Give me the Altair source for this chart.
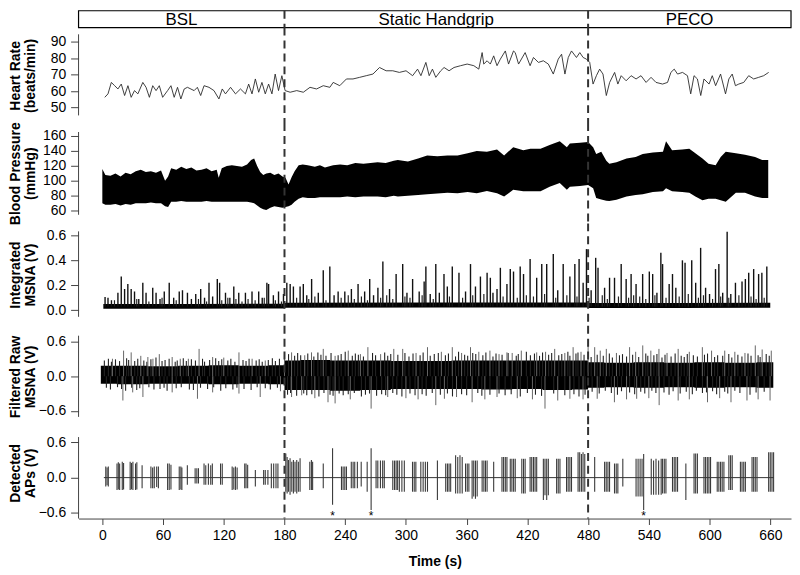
import altair as alt
import pandas as pd

FONT = "Liberation Sans"
X_MIN, X_MAX = -23.5, 680.5
W = 717

phase_names = ["BSL", "Static Handgrip", "PECO"]
phase_bounds = [180, 480]

# ---------------- Heart rate (beats/min) ----------------
hr_t = [2.4, 5.6, 8.9, 12.2, 15.4, 18.7, 22.0, 25.3, 28.5, 31.8, 35.1, 40.0, 43.2, 46.5, 49.8,
        53.1, 56.3, 59.6, 64.5, 67.8, 71.0, 74.3, 77.6, 80.9, 84.1, 90.7, 93.9, 97.2, 100.5,
        105.4, 110.3, 115.2, 118.5, 121.7, 126.7, 131.6, 136.5, 141.4, 144.6, 147.9, 151.2,
        154.5, 157.7, 161.0, 164.3, 167.6, 170.8, 174.1, 177.4, 180.6, 185.6, 192.1, 198.6,
        205.2, 211.7, 218.3, 224.8, 228.1, 234.6, 241.2, 247.7, 254.3, 260.8, 267.4, 273.9,
        280.4, 287.0, 293.5, 300.1, 306.6, 311.5, 314.8, 319.7, 323.0, 326.2, 329.5, 334.4,
        337.7, 342.6, 347.5, 354.0, 360.5, 367.1, 372.0, 375.3, 376.9, 380.2, 383.4, 386.7,
        390.0, 393.3, 398.2, 401.4, 406.3, 408.0, 411.3, 417.8, 422.7, 426.0, 430.9, 435.8,
        440.7, 445.6, 450.5, 453.8, 457.1, 460.4, 463.6, 468.5, 471.8, 475.1, 478.4, 481.6,
        484.9, 488.2, 491.4, 494.7, 498.0, 501.3, 506.2, 509.4, 512.7, 517.6, 522.5, 527.4,
        532.3, 537.3, 542.2, 547.1, 553.6, 558.5, 561.8, 565.1, 568.4, 573.3, 578.2, 581.4,
        584.7, 588.0, 591.3, 594.5, 599.5, 602.7, 606.0, 610.9, 615.8, 619.1, 622.4, 625.6,
        628.9, 633.8, 638.7, 643.6, 648.6, 653.5, 658.4]
hr_v = [56.2, 58.3, 65.3, 63.3, 61.3, 64.3, 57.3, 63.3, 56.2, 60.3, 58.3, 65.3, 62.3, 56.2, 63.3,
        60.3, 63.3, 56.2, 60.3, 63.3, 56.2, 62.3, 55.2, 61.3, 62.3, 60.3, 62.3, 57.3, 63.3,
        62.3, 60.3, 55.2, 61.3, 58.3, 62.3, 58.3, 61.3, 58.3, 64.3, 58.3, 67.4, 59.3, 65.3,
        58.3, 64.3, 58.3, 70.4, 60.3, 69.4, 60.3, 59.3, 60.3, 59.3, 62.3, 61.3, 63.3, 62.3,
        65.3, 63.3, 67.4, 67.4, 68.4, 69.4, 70.4, 74.4, 72.4, 72.4, 71.4, 72.4, 69.4, 73.4,
        69.4, 77.5, 69.4, 73.4, 68.4, 72.4, 74.4, 72.4, 74.4, 75.5, 76.5, 75.5, 73.4, 83.5,
        76.5, 78.5, 76.5, 81.5, 75.5, 79.5, 84.5, 76.5, 84.5, 83.5, 76.5, 83.5, 75.5, 80.5,
        77.5, 78.5, 76.5, 70.4, 79.5, 82.5, 70.4, 80.5, 84.5, 80.5, 83.5, 80.5, 79.5, 77.5,
        64.3, 69.4, 73.4, 70.4, 57.3, 65.3, 71.4, 64.3, 69.4, 66.3, 69.4, 67.4, 69.4, 65.3,
        68.4, 65.3, 64.3, 65.3, 71.4, 73.4, 70.4, 71.4, 69.4, 58.3, 69.4, 67.4, 57.3, 67.4,
        64.3, 69.4, 63.3, 70.4, 58.3, 67.4, 70.4, 63.3, 64.3, 65.3, 69.4, 67.4, 68.4, 69.4,
        71.4]

# ---------------- Blood pressure envelope (mmHg) ----------------
bp_t = [0, 3, 8, 13, 18, 23, 28, 33, 38, 43, 48, 53, 58, 62, 65, 68, 73, 78, 83, 88, 93, 98,
        103, 108, 113, 115, 118, 123, 128, 133, 138, 143, 147, 150, 153, 156, 159, 162, 166,
        170, 174, 178, 181, 184, 187, 190, 194, 198, 203, 210, 215, 220, 228, 235, 242, 250,
        258, 265, 272, 280, 288, 292, 302, 312, 321, 331, 341, 351, 361, 370, 380, 390, 397,
        406, 416, 423, 433, 442, 452, 459, 462, 472, 480, 485, 488, 493, 498, 501, 508, 518,
        527, 534, 544, 554, 557, 563, 573, 580, 586, 593, 599, 606, 611, 616, 626, 635, 645,
        652, 658]
bp_sys = [116, 108, 107, 110, 106, 111, 109, 113, 115, 112, 113, 111, 114, 100, 106, 117, 115,
          119, 116, 118, 114, 115, 117, 113, 115, 104, 117, 120, 121, 120, 119, 122, 128, 130,
          120, 112, 108, 110, 111, 108, 110, 106, 104, 95, 105, 113, 121, 122, 121, 119, 121,
          118, 121, 122, 121, 124, 123, 124, 125, 124, 127, 128, 126, 130, 134, 133, 134, 134,
          137, 140, 139, 142, 134, 145, 141, 143, 143, 148, 153, 145, 150, 151, 152, 145, 136,
          139, 127, 123, 125, 130, 132, 136, 138, 139, 153, 141, 142, 143, 137, 130, 123, 121,
          132, 139, 137, 135, 132, 128, 128]
bp_dia = [70, 68, 68, 69, 67, 69, 68, 70, 70, 70, 71, 70, 70, 66, 65, 72, 72, 73, 72, 72, 72, 72,
          73, 72, 72, 72, 72, 72, 72, 72, 72, 72, 71, 70, 67, 64, 62, 61, 64,
          66, 65, 64, 65, 66, 68, 72, 76, 78, 77, 77, 78, 78, 78, 78, 79, 78,
          79, 79, 79, 78, 80, 79, 80, 81, 82, 83, 84, 83.5, 85, 83.5, 86.5, 83.5, 79,
          88, 86, 86, 86, 92, 97, 88, 92, 93, 94.5, 90, 77, 75, 73.3, 73, 74.6, 79,
          81, 82, 85, 86, 90, 86, 85, 84, 79, 74, 76, 76, 74, 72, 84, 84, 79,
          77, 77]

# ---------------- Integrated MSNA (V) ----------------
msna_base_t = [1, 90, 180, 181, 330, 480, 481, 570, 660]
msna_base_lo = [0.012, 0.012, 0.014, 0.02, 0.022, 0.022, 0.018, 0.018, 0.02]
msna_base_hi = [0.05, 0.05, 0.052, 0.06, 0.062, 0.062, 0.058, 0.058, 0.06]
burst_t = [2.7, 5.6, 9.0, 15.4, 18.7, 22.0, 25.2, 28.5, 31.8, 36.0, 40.0, 43.2, 49.8, 53.1, 57.0,
           61.2, 66.1, 70.5, 76.0, 79.2, 84.1, 88.0, 92.3, 97.2, 101.0, 105.4, 109.0, 113.6, 115.9,
           121.7, 126.0, 129.9, 134.8, 141.4, 147.9, 154.5, 158.0, 162.6, 164.3, 169.0, 174.1,
           179.0, 182.3, 185.6, 188.8, 195.4, 198.6, 202.0, 206.8, 213.4, 218.3, 224.8, 229.0,
           233.0, 239.6, 246.1, 252.7, 259.2, 264.2, 268.0, 272.3, 277.2, 283.8, 290.3, 296.8,
           301.0, 306.6, 313.1, 318.0, 319.7, 324.0, 329.5, 333.0, 337.6, 340.9, 345.8, 352.4,
           358.9, 363.8, 368.7, 373.6, 380.2, 383.4, 386.0, 390.0, 393.3, 399.8, 403.1, 406.3,
           412.9, 416.2, 422.7, 429.2, 434.2, 439.1, 445.6, 450.0, 455.4, 462.0, 466.9, 471.1,
           475.1, 478.4, 483.0, 487.5, 489.8, 496.3, 501.2, 506.1, 512.7, 517.6, 522.5, 527.4,
           533.9, 540.5, 543.8, 548.0, 551.9, 553.6, 560.1, 563.4, 566.7, 573.2, 575.8, 582.4,
           586.3, 591.2, 596.1, 600.0, 605.9, 609.2, 613.0, 617.4, 621.0, 625.6, 632.1, 635.4,
           638.7, 643.6, 648.5, 651.7, 656.6]
burst_v = [0.106, 0.10, 0.08, 0.14, 0.27, 0.17, 0.21, 0.17, 0.15, 0.09, 0.22, 0.14, 0.18, 0.14,
           0.09, 0.15, 0.22, 0.10, 0.15, 0.16, 0.14, 0.09, 0.13, 0.17, 0.10, 0.22, 0.11, 0.25,
           0.22, 0.14, 0.10, 0.19, 0.14, 0.14, 0.15, 0.15, 0.10, 0.22, 0.21, 0.12, 0.15, 0.13,
           0.22, 0.21, 0.19, 0.19, 0.21, 0.12, 0.25, 0.14, 0.32, 0.35, 0.12, 0.15, 0.15, 0.17,
           0.21, 0.15, 0.25, 0.12, 0.18, 0.39, 0.17, 0.29, 0.37, 0.14, 0.25, 0.15, 0.23, 0.35,
           0.13, 0.37, 0.14, 0.29, 0.19, 0.35, 0.30, 0.15, 0.37, 0.19, 0.27, 0.30, 0.26, 0.14,
           0.17, 0.34, 0.21, 0.33, 0.31, 0.35, 0.29, 0.41, 0.26, 0.37, 0.37, 0.45, 0.16, 0.37,
           0.27, 0.37, 0.41, 0.22, 0.49, 0.16, 0.42, 0.34, 0.18, 0.26, 0.26, 0.37, 0.25, 0.29,
           0.21, 0.29, 0.31, 0.29, 0.14, 0.46, 0.37, 0.21, 0.29, 0.18, 0.40, 0.38, 0.40, 0.22,
           0.50, 0.18, 0.13, 0.33, 0.37, 0.14, 0.63, 0.13, 0.22, 0.23, 0.25, 0.30, 0.33, 0.29,
           0.30, 0.35]
small_burst_t = [12, 34, 46, 59, 73, 95, 103, 118, 124, 132, 138, 144, 151, 160, 171, 177, 192,
                 204, 210, 221, 236, 243, 249, 256, 262, 275, 281, 287, 299, 304, 316, 327, 343,
                 356, 366, 377, 396, 410, 419, 426, 437, 448, 459, 469, 481, 494, 499, 510, 520,
                 525, 531, 537, 546, 557, 570, 579, 589, 594, 603, 611, 619, 629, 641, 646, 654]
small_burst_v = [0.08, 0.09, 0.07, 0.10, 0.08, 0.09, 0.07, 0.08, 0.10, 0.09,
                 0.07, 0.09, 0.08, 0.10, 0.08, 0.07, 0.10, 0.09, 0.11, 0.08,
                 0.10, 0.12, 0.09, 0.11, 0.08, 0.10, 0.12, 0.09, 0.11, 0.10,
                 0.12, 0.09, 0.11, 0.10, 0.12, 0.13, 0.11, 0.10, 0.12, 0.11,
                 0.13, 0.10, 0.12, 0.11, 0.10, 0.12, 0.09, 0.11, 0.10, 0.12,
                 0.11, 0.09, 0.12, 0.10, 0.11, 0.13, 0.10, 0.12, 0.09, 0.11,
                 0.10, 0.12, 0.11, 0.09, 0.10]

# ---------------- Filtered raw MSNA (V) ----------------
raw_t = [-1.5, 30, 60, 90, 120, 150, 178, 182, 210, 240, 270, 300, 330, 360, 390, 420, 450, 478,
         482, 510, 540, 570, 600, 630, 663]
raw_hi = [0.18, 0.18, 0.17, 0.18, 0.19, 0.18, 0.19, 0.27, 0.28, 0.27, 0.27, 0.26, 0.26, 0.27,
          0.27, 0.27, 0.27, 0.27, 0.24, 0.23, 0.24, 0.23, 0.24, 0.23, 0.24]
raw_lo = [-0.13, -0.14, -0.13, -0.13, -0.14, -0.13, -0.14, -0.24, -0.24, -0.25, -0.24, -0.22,
          -0.22, -0.22, -0.23, -0.22, -0.24, -0.23, -0.20, -0.19, -0.20, -0.19, -0.20, -0.19,
          -0.20]
raw_up_t = [10, 21, 28.5, 38, 45, 50, 56.3, 69, 77, 85, 95.6, 109, 120, 135, 148, 161, 180, 187,
            200, 206.7, 218.3, 230, 243, 255, 262.4, 275, 288, 296.8, 310, 321.3, 335, 345.8,
            355, 363.8, 372, 383, 392, 399.8, 405, 414, 429.2, 438, 447, 457, 465.2, 473, 480,
            486.5, 492, 498, 508, 521, 527, 534, 542, 550, 558, 569, 580, 592.9, 602, 615, 625,
            635, 645.2, 652, 661]
raw_up_v = [0.30, 0.44, 0.41, 0.35, 0.33, 0.30, 0.38, 0.33, 0.30, 0.30, 0.47, 0.33, 0.32, 0.41,
            0.30, 0.27, 0.38, 0.41, 0.36, 0.41, 0.47, 0.35, 0.44, 0.38, 0.50, 0.38, 0.47, 0.47,
            0.40, 0.50, 0.42, 0.50, 0.40, 0.50, 0.42, 0.44, 0.38, 0.41, 0.40, 0.44, 0.41, 0.42,
            0.47, 0.40, 0.50, 0.42, 0.53, 0.50, 0.44, 0.47, 0.40, 0.50, 0.42, 0.53, 0.44, 0.47,
            0.40, 0.47, 0.42, 0.50, 0.44, 0.44, 0.42, 0.40, 0.53, 0.46, 0.44]
raw_dn_t = [20.3, 30, 40.1, 69, 94, 109, 135, 156, 176, 187, 197, 210, 223, 230, 245, 265.6, 282,
            300, 312, 329.5, 338, 350, 365.4, 378, 390, 410, 425, 437.4, 450, 462, 475, 489, 506,
            518, 528, 540, 550.2, 569, 580, 598, 610, 621.2, 637, 648, 659.8]
raw_dn_v = [-0.42, -0.28, -0.36, -0.28, -0.39, -0.28, -0.30, -0.36, -0.26, -0.36, -0.33, -0.38,
            -0.45, -0.47, -0.40, -0.56, -0.36, -0.38, -0.40, -0.50, -0.39, -0.36, -0.45, -0.40,
            -0.36, -0.38, -0.40, -0.56, -0.42, -0.39, -0.40, -0.39, -0.45, -0.40, -0.39, -0.38,
            -0.50, -0.42, -0.40, -0.45, -0.38, -0.45, -0.42, -0.40, -0.42]
# fringe of shorter spikes that makes the band edge ragged
fringe_up_t = [2, 6, 9, 13, 17, 24, 26, 32, 35, 41, 44, 48, 53, 59, 62, 66, 72, 74, 80, 83,
               88, 92, 99, 101, 106, 112, 115, 118, 124, 127, 131, 139, 142, 145, 152, 155, 158,
               164, 168, 171, 175,
               184, 190, 193, 196, 203, 209, 213, 216, 221, 226, 233, 236, 240, 247, 250, 253,
               258, 267, 270, 279, 282, 285, 292, 299, 303, 307, 314, 317, 324, 328, 332, 339,
               342, 349, 352, 358, 361, 366, 369, 376, 379, 386, 389, 395, 401, 409, 411, 419,
               423, 427, 432, 435, 441, 444, 451, 454, 460, 462, 468, 470, 476,
               483, 489, 495, 501, 504, 511, 514, 518, 524, 530, 537, 539, 545, 548, 553, 556,
               562, 566, 572, 575, 578, 584, 588, 595, 598, 605, 608, 613, 619, 622, 628, 632,
               638, 641, 648, 650, 656, 659]
fringe_up_v = [0.27, 0.30, 0.25, 0.29, 0.26, 0.31, 0.28, 0.26, 0.30, 0.27,
               0.25, 0.29, 0.32, 0.26, 0.28, 0.30, 0.25, 0.27, 0.31, 0.26,
               0.29, 0.27, 0.30, 0.25, 0.28, 0.31, 0.26, 0.29, 0.27, 0.30,
               0.25, 0.28, 0.26, 0.30, 0.27, 0.29, 0.25, 0.28, 0.31, 0.26, 0.30,
               0.38, 0.35, 0.40, 0.36, 0.39, 0.34, 0.41, 0.37, 0.35, 0.40,
               0.36, 0.38, 0.42, 0.35, 0.39, 0.37, 0.34, 0.40, 0.36, 0.41,
               0.35, 0.38, 0.37, 0.40, 0.34, 0.39, 0.36, 0.41, 0.35, 0.38,
               0.40, 0.36, 0.39, 0.34, 0.42, 0.37, 0.35, 0.40, 0.38, 0.36,
               0.41, 0.34, 0.39, 0.37, 0.40, 0.35, 0.38, 0.42, 0.36, 0.39,
               0.35, 0.41, 0.37, 0.40, 0.36, 0.38, 0.42, 0.35, 0.39, 0.41, 0.37,
               0.33, 0.37, 0.35, 0.39, 0.32, 0.36, 0.38, 0.34, 0.37, 0.33,
               0.39, 0.35, 0.36, 0.38, 0.32, 0.37, 0.34, 0.39, 0.35, 0.33,
               0.38, 0.36, 0.34, 0.37, 0.39, 0.33, 0.36, 0.35, 0.38, 0.32,
               0.37, 0.34, 0.39, 0.35, 0.36, 0.33, 0.38, 0.35]
fringe_dn_t = [4, 8, 15, 19, 23, 29, 34, 37, 46, 51, 57, 61, 64, 73, 78, 86, 90, 97, 104, 110,
               117, 122, 129, 133, 140, 147, 153, 161, 166, 173,
               183, 186, 192, 199, 202, 207, 214, 219, 225, 228, 234, 238, 243, 249, 256, 260,
               264, 271, 276, 280, 287, 291, 296, 304, 309, 316, 320, 326, 334, 341, 346, 355,
               360, 371, 375, 383, 392, 398, 404, 413, 420, 428, 434, 446, 457, 466, 471, 477,
               484, 491, 497, 503, 509, 513, 521, 526, 532, 536, 543, 547, 555, 560, 564, 571,
               577, 583, 587, 593, 597, 603, 607, 615, 618, 625, 630, 640, 646, 654]
fringe_dn_v = [-0.20, -0.23, -0.19, -0.22, -0.25, -0.20, -0.24, -0.21, -0.19, -0.23,
               -0.22, -0.20, -0.25, -0.21, -0.19, -0.23, -0.24, -0.20, -0.22, -0.19,
               -0.25, -0.21, -0.23, -0.20, -0.22, -0.24, -0.19, -0.21, -0.23, -0.20,
               -0.32, -0.29, -0.34, -0.30, -0.33, -0.31, -0.35, -0.29, -0.32, -0.34,
               -0.30, -0.33, -0.31, -0.29, -0.35, -0.32, -0.30, -0.34, -0.31, -0.33,
               -0.29, -0.32, -0.35, -0.30, -0.33, -0.31, -0.34, -0.29, -0.32, -0.30,
               -0.35, -0.31, -0.33, -0.29, -0.34, -0.32, -0.30, -0.33, -0.31, -0.35,
               -0.29, -0.32, -0.34, -0.30, -0.33, -0.31, -0.35, -0.32,
               -0.27, -0.30, -0.25, -0.29, -0.32, -0.26, -0.28, -0.31, -0.27, -0.30,
               -0.25, -0.29, -0.28, -0.32, -0.26, -0.30, -0.27, -0.31, -0.25, -0.29,
               -0.28, -0.26, -0.31, -0.27, -0.30, -0.25, -0.29, -0.32, -0.28, -0.27]

# ---------------- Detected action potentials (V) ----------------
ap_t = [3.4, 4.7, 5.9,
        14.5, 15.8, 17.1, 19.7, 21.0,
        27.5, 28.8, 30.2, 32.8, 34.1,
        39.3,
        48.0, 49.7, 51.3, 53.7, 55.4,
        64.5, 66.1, 67.8,
        76.0, 77.6, 78.6,
        84.0,
        91.7, 93.4, 95.0,
        100.5, 102.2, 104.8, 107.1, 108.7,
        116.8, 118.5,
        128.3, 129.9, 131.5, 133.2,
        140.7, 142.0, 143.6,
        151.2,
        159.4, 161.0, 163.6,
        167.0, 169.3, 171.6, 173.5,
        181.3, 182.6, 183.9, 185.5, 187.2, 188.8, 190.4, 192.1, 193.7, 195.4,
        205.0, 206.6, 207.8,
        218.3,
        227.5,
        236.3, 237.9, 239.6, 241.2,
        246.0, 247.8, 249.4, 252.0,
        255.8,
        261.7,
        265.6,
        270.5, 272.2, 274.8, 277.0, 278.6,
        287.0, 288.7, 290.3, 291.8,
        293.5, 296.0, 298.4,
        306.5, 308.2, 309.8,
        314.7, 317.0, 319.2, 321.3,
        331.1,
        339.3, 341.0, 342.6, 344.2,
        349.1, 351.2, 353.4, 355.6,
        358.9, 360.6, 362.2,
        365.4, 367.0, 368.7, 370.4,
        375.3, 377.0, 378.6, 380.2,
        386.7,
        394.9, 396.5, 398.2, 399.8,
        403.1, 404.7, 406.4, 408.0,
        414.5, 416.2, 417.8,
        422.7, 424.3, 426.0, 427.6, 429.2,
        435.8, 437.4, 439.1, 440.7,
        448.9, 450.5, 452.2,
        458.7, 460.3, 462.0, 463.6,
        470.1, 471.7, 473.4, 475.0, 476.7,
        486.5,
        496.3, 497.9, 499.6, 501.2,
        506.1, 507.8, 509.4,
        514.3,
        527.4, 529.4, 531.4, 533.3,
        534.9,
        542.4, 544.7, 547.1, 549.7, 552.2,
        553.6, 555.3, 556.9,
        563.4, 565.1, 566.7, 568.4,
        576.6,
        584.7, 586.3, 588.0,
        594.5, 596.1, 597.8, 599.4, 601.0,
        607.6, 609.2, 610.9, 612.5, 614.2,
        619.1, 620.8, 622.4,
        630.5, 632.1, 633.8, 635.4,
        642.0, 643.6, 645.2, 646.9,
        658.4, 660.0, 661.7, 663.3]
ap_top = [0.19, 0.17, 0.19,
          0.24, 0.26, 0.24, 0.27, 0.25,
          0.27, 0.25, 0.27, 0.24, 0.26,
          0.21,
          0.19, 0.17, 0.19, 0.19, 0.19,
          0.24, 0.24, 0.22,
          0.19, 0.19, 0.17,
          0.21,
          0.16, 0.16, 0.16,
          0.24, 0.21, 0.24, 0.21, 0.24,
          0.24, 0.24,
          0.19, 0.17, 0.19, 0.17,
          0.24, 0.24, 0.22,
          0.13,
          0.13, 0.13, 0.13,
          0.24, 0.24, 0.24, 0.24,
          0.41, 0.35, 0.30, 0.33, 0.27, 0.30, 0.27, 0.30, 0.27, 0.33,
          0.27, 0.30, 0.27,
          0.24,
          0.50,
          0.19, 0.19, 0.19, 0.19,
          0.27, 0.27, 0.27, 0.27,
          0.27,
          0.27,
          0.50,
          0.29, 0.29, 0.29, 0.29, 0.29,
          0.29, 0.29, 0.29, 0.29,
          0.29, 0.29, 0.29,
          0.27, 0.27, 0.27,
          0.27, 0.27, 0.27, 0.27,
          0.29,
          0.24, 0.24, 0.24, 0.24,
          0.38, 0.35, 0.38, 0.35,
          0.24, 0.24, 0.24,
          0.29, 0.29, 0.29, 0.29,
          0.29, 0.29, 0.29, 0.29,
          0.27,
          0.35, 0.35, 0.35, 0.35,
          0.32, 0.32, 0.32, 0.32,
          0.32, 0.32, 0.32,
          0.35, 0.35, 0.35, 0.35, 0.35,
          0.32, 0.32, 0.32, 0.32,
          0.32, 0.32, 0.32,
          0.35, 0.35, 0.35, 0.35,
          0.43, 0.43, 0.40, 0.43, 0.40,
          0.35,
          0.27, 0.27, 0.27, 0.27,
          0.24, 0.24, 0.24,
          0.32,
          0.32, 0.32, 0.32, 0.32,
          0.40,
          0.32, 0.29, 0.32, 0.29, 0.32,
          0.32, 0.32, 0.32,
          0.35, 0.35, 0.35, 0.35,
          0.24,
          0.41, 0.41, 0.41,
          0.35, 0.35, 0.35, 0.35, 0.35,
          0.27, 0.27, 0.27, 0.27, 0.27,
          0.38, 0.38, 0.38,
          0.27, 0.27, 0.27, 0.27,
          0.35, 0.35, 0.35, 0.35,
          0.43, 0.43, 0.43, 0.43]
ap_bot = [-0.15, -0.13, -0.15,
          -0.21, -0.20, -0.21, -0.21, -0.20,
          -0.21, -0.20, -0.21, -0.21, -0.20,
          -0.18,
          -0.18, -0.18, -0.18, -0.16, -0.18,
          -0.21, -0.21, -0.20,
          -0.21, -0.20, -0.21,
          -0.12,
          -0.10, -0.10, -0.10,
          -0.12, -0.12, -0.12, -0.12, -0.12,
          -0.12, -0.12,
          -0.21, -0.20, -0.21, -0.20,
          -0.18, -0.18, -0.18,
          -0.15,
          -0.12, -0.12, -0.12,
          -0.18, -0.18, -0.18, -0.18,
          -0.24, -0.27, -0.24, -0.29, -0.24, -0.27, -0.24, -0.27, -0.24, -0.24,
          -0.21, -0.21, -0.21,
          -0.18,
          -0.46,
          -0.21, -0.21, -0.21, -0.21,
          -0.18, -0.18, -0.18, -0.18,
          -0.15,
          -0.24,
          -0.55,
          -0.18, -0.18, -0.18, -0.18, -0.18,
          -0.21, -0.21, -0.21, -0.21,
          -0.24, -0.24, -0.24,
          -0.24, -0.24, -0.24,
          -0.24, -0.24, -0.24, -0.24,
          -0.38,
          -0.24, -0.24, -0.24, -0.24,
          -0.27, -0.27, -0.27, -0.27,
          -0.24, -0.24, -0.24,
          -0.36, -0.32, -0.36, -0.32,
          -0.24, -0.24, -0.24, -0.24,
          -0.24,
          -0.24, -0.24, -0.24, -0.24,
          -0.24, -0.24, -0.24, -0.24,
          -0.27, -0.27, -0.27,
          -0.24, -0.24, -0.24, -0.24, -0.24,
          -0.38, -0.30, -0.38, -0.30,
          -0.27, -0.27, -0.27,
          -0.24, -0.24, -0.24, -0.24,
          -0.24, -0.24, -0.24, -0.24, -0.24,
          -0.24,
          -0.24, -0.24, -0.24, -0.24,
          -0.27, -0.27, -0.27,
          -0.15,
          -0.32, -0.32, -0.32, -0.32,
          -0.55,
          -0.29, -0.29, -0.29, -0.29, -0.29,
          -0.27, -0.27, -0.27,
          -0.24, -0.24, -0.24, -0.24,
          -0.38,
          -0.27, -0.27, -0.27,
          -0.27, -0.27, -0.27, -0.27, -0.27,
          -0.24, -0.24, -0.24, -0.24, -0.24,
          -0.21, -0.21, -0.21,
          -0.24, -0.24, -0.24, -0.24,
          -0.24, -0.24, -0.24, -0.24,
          -0.24, -0.24, -0.24, -0.24]
ap_trace_t = [1.5, 663.5]
ap_star_t = [227.5, 265.6, 534.9]

# ---------------- helpers ----------------
def xenc(field, axis=None):
    return alt.X(f"{field}:Q", scale=alt.Scale(domain=[X_MIN, X_MAX], nice=False, zero=False),
                 axis=axis)


def yaxis(title, values, fmt):
    return alt.Axis(title=title, values=values, format=fmt, domain=False, grid=False,
                    tickCount=20, ticks=True, tickSize=8, tickColor="#444", tickWidth=1,
                    labelOverlap=False,
                    labelPadding=5, labelFont=FONT, labelFontSize=14, labelColor="black",
                    titleFont=FONT, titleFontSize=14, titleFontWeight="bold", titleColor="black",
                    titleX=-56, titleBaseline="bottom", titleLineHeight=14.5, titleAngle=270)


def yscale(domain):
    return alt.Scale(domain=domain, nice=False, zero=False)


phase_df = pd.DataFrame({"t": phase_bounds})
one_df = pd.DataFrame({"k": [0]})


def dashed(axis=None):
    return alt.Chart(phase_df).mark_rule(color="#333", strokeWidth=2, strokeDash=[8, 5]).encode(
        x=xenc("t", axis))


def yline(top, bot):
    return alt.Chart(one_df).mark_rule(color="#444", strokeWidth=1).encode(
        x=alt.value(0), y=alt.value(top), y2=alt.value(bot))


def spikes(t, v, base, color, width):
    df = pd.DataFrame({"t": t, "v": v, "b": [base] * len(t)})
    return alt.Chart(df).mark_rule(color=color, strokeWidth=width).encode(
        x=xenc("t"), y=alt.Y("b:Q"), y2="v:Q")


# ---------------- header ----------------
H0 = 17
hdr_df = pd.DataFrame({"name": phase_names,
                       "start": [X_MIN] + phase_bounds,
                       "end": phase_bounds + [X_MAX]})
hdr_df["mid"] = (hdr_df["start"] + hdr_df["end"]) / 2
box = alt.Chart(one_df).mark_rect(fill="white", stroke="black", strokeWidth=1.2).encode(
    x=alt.value(0), x2=alt.value(W), y=alt.value(0), y2=alt.value(H0))
hdr_text = alt.Chart(hdr_df).mark_text(font=FONT, fontSize=17, baseline="middle",
                                       color="black").encode(
    x=xenc("mid"), y=alt.value(H0 / 2 + 0.5), text="name:N")
header = alt.layer(box, hdr_text, dashed()).properties(width=W, height=H0)

# ---------------- panel 1: HR ----------------
H1 = 96
hr_df = pd.DataFrame({"t": hr_t, "v": hr_v})
p1 = alt.layer(
    alt.Chart(hr_df).mark_line(color="#2a2a2a", strokeWidth=0.9).encode(
        x=xenc("t"),
        y=alt.Y("v:Q", scale=yscale([40.5, 98.7]),
                axis=yaxis(["Heart Rate", "(beats/min)"], [50, 60, 70, 80, 90], "d"))),
    dashed(), yline(6.7, 88.3)
).properties(width=W, height=H1)

# ---------------- panel 2: BP ----------------
H2 = 101
bp_df = pd.DataFrame({"t": bp_t, "sys": bp_sys, "dia": bp_dia})
p2 = alt.layer(
    alt.Chart(bp_df).mark_area(color="black", interpolate="linear").encode(
        x=xenc("t"),
        y=alt.Y("dia:Q", scale=yscale([43.1, 177.3]),
                axis=yaxis(["Blood Pressure", "(mmHg)"], [60, 80, 100, 120, 140, 160], "d")),
        y2="sys:Q"),
    dashed(), yline(9, 92.3)
).properties(width=W, height=H2)

# ---------------- panel 3: integrated MSNA ----------------
H3 = 103
base_df = pd.DataFrame({"t": msna_base_t, "lo": msna_base_lo, "hi": msna_base_hi})
y3 = alt.Y("lo:Q", scale=yscale([-0.125, 0.696]),
           axis=yaxis(["Integrated", "MSNA (V)"], [0.0, 0.2, 0.4, 0.6], ".1f"))
p3 = alt.layer(
    alt.Chart(base_df).mark_area(color="black").encode(x=xenc("t"), y=y3, y2="hi:Q"),
    spikes(small_burst_t, small_burst_v, 0.03, "#222", 1.2),
    spikes(burst_t, burst_v, 0.03, "#111", 1.4),
    dashed(), yline(8, 94)
).properties(width=W, height=H3)

# ---------------- panel 4: filtered raw MSNA ----------------
H4 = 102
raw_df = pd.DataFrame({"t": raw_t, "lo": raw_lo, "hi": raw_hi})
y4 = alt.Y("lo:Q", scale=yscale([-0.879, 0.869]),
           axis=yaxis(["Filtered Raw", "MSNA (V)"], [-0.6, 0.0, 0.6], ".1f"))
p4 = alt.layer(
    alt.Chart(raw_df).mark_area(color="black", interpolate="step").encode(
        x=xenc("t"), y=y4, y2="hi:Q"),
    spikes(fringe_up_t, fringe_up_v, 0.0, "#222", 1.1),
    spikes(fringe_dn_t, fringe_dn_v, 0.0, "#222", 1.1),
    spikes(raw_up_t, raw_up_v, 0.0, "#666", 1),
    spikes(raw_dn_t, raw_dn_v, 0.0, "#666", 1),
    dashed(), yline(10, 91.7)
).properties(width=W, height=H4)

# ---------------- panel 5: detected APs ----------------
H5 = 92
ap_df = pd.DataFrame({"t": ap_t, "top": ap_top, "bot": ap_bot})
trace_df = pd.DataFrame({"t": ap_trace_t, "z": [0.0, 0.0]})
star_df = pd.DataFrame({"t": ap_star_t, "y": [-0.66] * len(ap_star_t),
                        "s": ["*"] * len(ap_star_t)})
y5 = alt.Y("bot:Q", scale=yscale([-0.696, 0.859]),
           axis=yaxis(["Detected", "APs (V)"], [-0.6, 0.0, 0.6], ".1f"))
xaxis = alt.Axis(title="Time (s)", values=list(range(0, 661, 60)), format="d", grid=False,
                 tickCount=20, domainColor="#444", domainWidth=1, tickColor="#444", tickSize=6,
                 labelFont=FONT, labelFontSize=14, labelColor="black", labelPadding=4,
                 titleFont=FONT, titleFontSize=14, titleFontWeight="bold", titleColor="black",
                 titlePadding=12)
p5 = alt.layer(
    alt.Chart(ap_df).mark_rule(color="#3a3a3a", strokeWidth=1.1).encode(
        x=xenc("t", xaxis), y=y5, y2="top:Q"),
    alt.Chart(trace_df).mark_line(color="#333", strokeWidth=1).encode(
        x=xenc("t", xaxis), y=alt.Y("z:Q")),
    alt.Chart(star_df).mark_text(font=FONT, fontSize=12, baseline="middle",
                                 color="black").encode(
        x=xenc("t", xaxis), y=alt.Y("y:Q"), text="s:N"),
    dashed(xaxis), yline(10, H5)
).properties(width=W, height=H5)

chart = alt.vconcat(header, p1, p2, p3, p4, p5, spacing=0, bounds="flush").resolve_scale(
    y="independent").configure_view(stroke=None).properties(
    padding={"left": 1, "top": 0, "right": 0, "bottom": 0})

chart.save("out.html", embed_options={"renderer": "svg", "actions": False})
